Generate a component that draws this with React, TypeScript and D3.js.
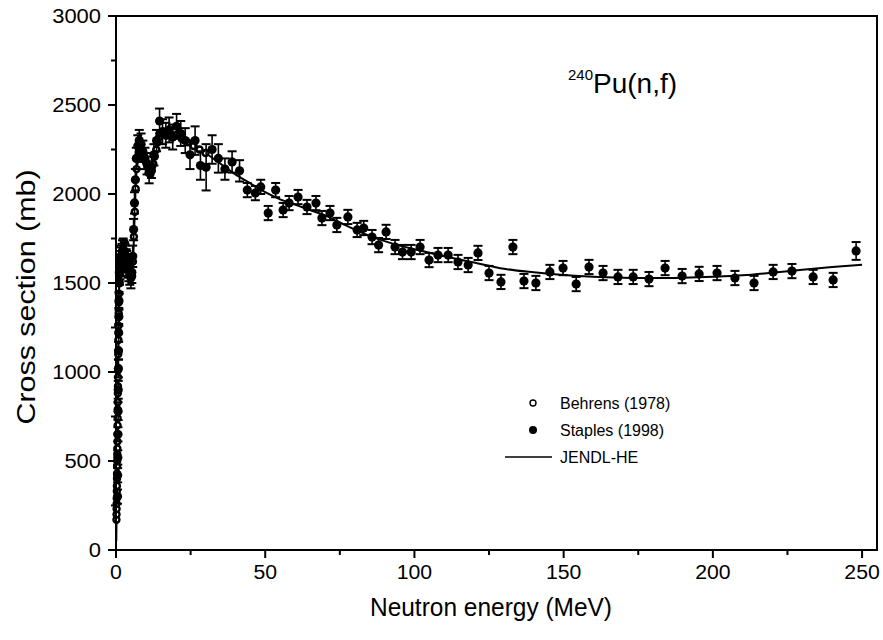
import React from "react";
import * as d3 from "d3";

// Staples (1998): energy (MeV), cross section (mb), uncertainty (mb)
const staplesE = [0.5, 0.55, 0.6, 0.65, 0.7, 0.75, 0.8, 0.85, 0.9, 0.95, 1.0, 1.1, 1.2, 1.3, 1.4, 1.55, 1.7, 1.85, 2.0, 2.2, 2.4, 2.6, 2.8, 3.0, 3.2, 3.4, 3.6, 3.8, 4.0, 4.3, 4.6, 5.0, 5.3, 5.6, 5.9, 6.2, 6.5, 6.8, 7.3, 7.8, 8.4, 9.0, 9.7, 10.4, 11.1, 11.9, 12.7, 13.6, 14.6, 15.6, 16.7, 17.8, 19.0, 20.3, 21.7, 23.2, 24.8, 26.5, 28.3, 30.2, 32.2, 34.3, 36.5, 38.9, 41.4, 44.0, 46.7, 48.5, 51.0, 53.5, 56.0, 58.0, 61.0, 64.0, 67.0, 69.0, 71.7, 74.0, 77.7, 80.8, 83.0, 85.8, 88.0, 90.5, 93.5, 96.0, 98.9, 101.9, 104.9, 107.9, 111.3, 114.6, 118.0, 121.3, 125.0, 129.0, 133.0, 136.7, 140.7, 145.4, 149.8, 154.2, 158.5, 163.2, 168.2, 173.3, 178.6, 184.0, 189.7, 195.4, 201.4, 207.4, 213.8, 220.2, 226.5, 233.6, 240.3, 248.0];
const staplesS = [300, 420, 520, 650, 780, 900, 1020, 1120, 1220, 1310, 1400, 1500, 1550, 1580, 1600, 1620, 1640, 1650, 1660, 1680, 1690, 1680, 1670, 1660, 1650, 1630, 1620, 1600, 1590, 1570, 1550, 1530, 1560, 1650, 1800, 1950, 2080, 2200, 2270, 2300, 2280, 2240, 2200, 2170, 2120, 2150, 2220, 2300, 2410, 2350, 2330, 2360, 2320, 2380, 2340, 2300, 2220, 2300, 2160, 2150, 2250, 2200, 2140, 2180, 2130, 2022, 2005, 2040, 1893, 2022, 1910, 1949, 1983, 1927, 1949, 1865, 1893, 1826, 1871, 1798, 1809, 1758, 1713, 1787, 1702, 1674, 1674, 1702, 1629, 1657, 1657, 1618, 1601, 1669, 1556, 1506, 1702, 1511, 1500, 1562, 1584, 1494, 1590, 1556, 1534, 1534, 1522, 1584, 1539, 1551, 1556, 1528, 1500, 1562, 1567, 1534, 1517, 1680];
const staplesErr = [40, 40, 40, 40, 50, 50, 50, 50, 50, 50, 50, 60, 60, 60, 60, 60, 60, 60, 60, 60, 60, 60, 60, 60, 60, 60, 60, 60, 60, 60, 60, 60, 60, 60, 60, 60, 60, 60, 60, 60, 60, 60, 60, 60, 60, 60, 60, 60, 70, 70, 70, 70, 70, 70, 70, 70, 80, 80, 80, 130, 80, 80, 60, 60, 60, 40, 40, 40, 40, 40, 40, 40, 40, 40, 40, 40, 40, 40, 40, 40, 40, 40, 40, 40, 40, 40, 40, 40, 40, 40, 40, 40, 40, 40, 40, 40, 40, 40, 40, 40, 40, 40, 40, 40, 40, 40, 40, 40, 40, 40, 40, 40, 40, 40, 40, 40, 40, 50];

// Behrens (1978)
const behrensE = [0.15, 0.18, 0.2, 0.22, 0.25, 0.28, 0.3, 0.33, 0.35, 0.38, 0.4, 0.43, 0.45, 0.48, 0.5, 0.53, 0.55, 0.58, 0.6, 0.63, 0.65, 0.68, 0.7, 0.75, 0.8, 0.85, 0.9, 0.95, 1.0, 1.1, 1.2, 1.3, 1.4, 1.5, 1.7, 1.9, 2.1, 2.3, 2.5, 2.7, 3.0, 3.3, 3.6, 3.9, 4.2, 4.5, 4.8, 5.1, 5.4, 5.7, 6.0, 6.3, 6.6, 6.9, 7.2, 7.6, 8.0, 8.5, 9.0, 9.5, 10, 10.5, 11, 11.5, 12, 12.5, 13, 13.5, 14, 14.5, 15, 16, 17, 18, 19, 20, 22, 24, 26, 28, 30];
const behrensS = [170, 200, 230, 260, 290, 330, 360, 400, 430, 470, 500, 540, 570, 610, 650, 700, 740, 790, 830, 880, 920, 970, 1010, 1100, 1180, 1260, 1330, 1390, 1440, 1510, 1560, 1590, 1610, 1620, 1640, 1650, 1660, 1670, 1680, 1670, 1660, 1640, 1620, 1610, 1590, 1570, 1550, 1530, 1540, 1620, 1760, 1900, 2030, 2140, 2200, 2230, 2250, 2240, 2220, 2200, 2180, 2150, 2120, 2110, 2130, 2170, 2210, 2250, 2290, 2320, 2340, 2350, 2330, 2340, 2320, 2330, 2310, 2290, 2270, 2250, 2230];

// JENDL-HE evaluation
const jendlE = [0.1, 0.2, 0.3, 0.5, 0.7, 1, 1.5, 2, 3, 4, 5, 5.5, 6, 6.5, 7, 8, 10, 12, 14, 16, 18, 20, 25, 30, 35, 40, 45, 50, 55, 60, 65, 70, 75, 80, 85, 90, 95, 100, 110, 120, 130, 140, 150, 160, 170, 180, 190, 200, 210, 220, 230, 240, 250];
const jendlS = [50, 200, 350, 650, 1050, 1450, 1580, 1620, 1630, 1590, 1540, 1560, 1750, 2000, 2150, 2200, 2170, 2150, 2280, 2340, 2340, 2330, 2290, 2230, 2170, 2110, 2060, 2010, 1970, 1940, 1910, 1880, 1840, 1800, 1765, 1735, 1710, 1690, 1650, 1615, 1580, 1560, 1545, 1535, 1530, 1528, 1530, 1535, 1543, 1558, 1575, 1590, 1602];

const xTicks = [0, 50, 100, 150, 200, 250];
const xMinor = [25, 75, 125, 175, 225];
const yTicks = [0, 500, 1000, 1500, 2000, 2500, 3000];
const yMinor = [250, 750, 1250, 1750, 2250, 2750];

const W = 883;
const H = 640;
const L = 116, R = 877, T = 16, B = 550;
const FONT = "'Liberation Sans', Arial, Helvetica, sans-serif";

export default function App() {
  const x = d3.scaleLinear().domain([0, 255]).range([L, R]);
  const y = d3.scaleLinear().domain([0, 3000]).range([B, T]);
  const line = d3
    .line<number>()
    .x((_, i) => x(jendlE[i]))
    .y((d) => y(d))
    .curve(d3.curveMonotoneX);

  return (
    <svg width={W} height={H} style={{ position: "absolute", left: 0, top: 0, background: "#fff" }} fontFamily={FONT}>
      <rect x={0} y={0} width={W} height={H} fill="#fff" />

      {/* JENDL-HE line */}
      <path d={line(jendlS) || ""} fill="none" stroke="#000" strokeWidth={2} />

      {/* Behrens open circles */}
      <g>
        {behrensE.map((e, i) => (
          <circle key={"b" + i} cx={x(e)} cy={y(behrensS[i])} r={3} fill="#fff" stroke="#000" strokeWidth={2.4} />
        ))}
      </g>

      {/* Staples filled circles with error bars */}
      <g>
        {staplesE.map((e, i) => {
          const cx = x(e);
          const y1 = y(staplesS[i] + staplesErr[i]);
          const y0 = y(staplesS[i] - staplesErr[i]);
          return (
            <g key={"s" + i}>
              <line x1={cx} x2={cx} y1={y1} y2={y0} stroke="#000" strokeWidth={1.6} />
              <line x1={cx - 4.5} x2={cx + 4.5} y1={y1} y2={y1} stroke="#000" strokeWidth={2} />
              <line x1={cx - 4.5} x2={cx + 4.5} y1={y0} y2={y0} stroke="#000" strokeWidth={2} />
              <circle cx={cx} cy={y(staplesS[i])} r={4.6} fill="#000" />
            </g>
          );
        })}
      </g>

      {/* frame */}
      <rect x={L} y={T} width={R - L} height={B - T} fill="none" stroke="#000" strokeWidth={2} />

      {/* x axis ticks */}
      {xTicks.map((t) => (
        <g key={"xt" + t}>
          <line x1={x(t)} x2={x(t)} y1={B} y2={B + 8} stroke="#000" strokeWidth={2} />
          <text x={x(t)} y={B + 29} textAnchor="middle" fontSize={20}
            textLength={String(t).length * 11.8} lengthAdjust="spacingAndGlyphs">{t}</text>
        </g>
      ))}
      {xMinor.map((t) => (
        <line key={"xm" + t} x1={x(t)} x2={x(t)} y1={B} y2={B + 5} stroke="#000" strokeWidth={2} />
      ))}

      {/* y axis ticks */}
      {yTicks.map((t) => (
        <g key={"yt" + t}>
          <line x1={L - 8} x2={L} y1={y(t)} y2={y(t)} stroke="#000" strokeWidth={2} />
          <text x={L - 15} y={y(t) + 7} textAnchor="end" fontSize={20}
            textLength={String(t).length * 12.2} lengthAdjust="spacingAndGlyphs">{t}</text>
        </g>
      ))}
      {yMinor.map((t) => (
        <line key={"ym" + t} x1={L - 5} x2={L} y1={y(t)} y2={y(t)} stroke="#000" strokeWidth={2} />
      ))}

      {/* axis titles */}
      <text x={491} y={616} textAnchor="middle" fontSize={25} textLength={242} lengthAdjust="spacingAndGlyphs">Neutron energy (MeV)</text>
      <text transform="translate(35, 297) rotate(-90)" textAnchor="middle" fontSize={25} textLength={255} lengthAdjust="spacingAndGlyphs">Cross section (mb)</text>

      {/* reaction label */}
      <text x={568} y={93} fontSize={28}>
        <tspan fontSize={15} dy={-13}>240</tspan>
        <tspan dy={13}>Pu(n,f)</tspan>
      </text>

      {/* legend */}
      <circle cx={533} cy={403} r={3} fill="#fff" stroke="#000" strokeWidth={1.4} />
      <text x={560} y={409} fontSize={16}>Behrens (1978)</text>
      <circle cx={533} cy={430} r={4} fill="#000" />
      <text x={560} y={436} fontSize={16}>Staples (1998)</text>
      <line x1={505} x2={552} y1={457} y2={457} stroke="#000" strokeWidth={1.5} />
      <text x={560} y={463} fontSize={16}>JENDL-HE</text>
    </svg>
  );
}
